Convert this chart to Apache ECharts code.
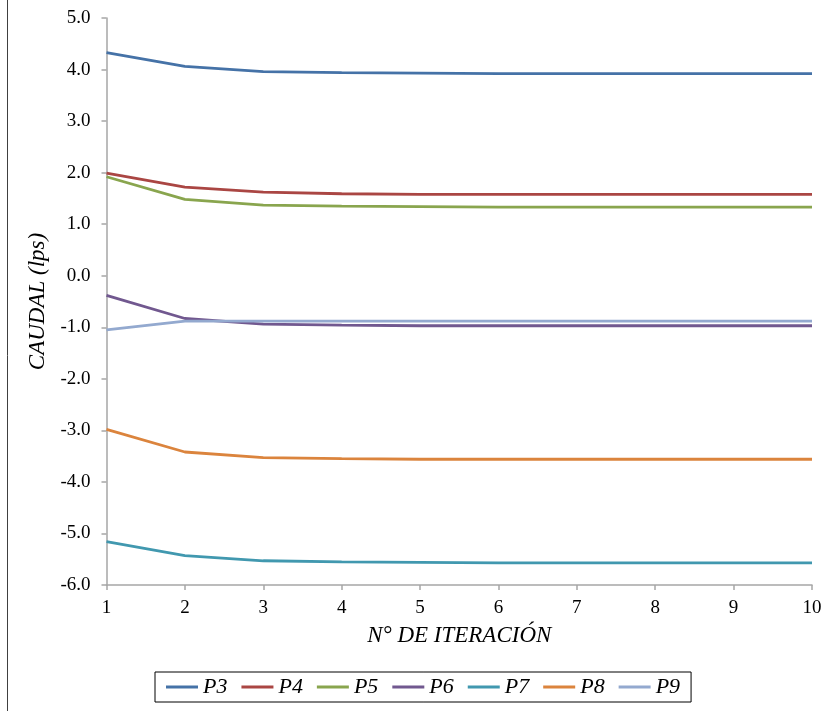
<!DOCTYPE html>
<html>
<head>
<meta charset="utf-8">
<script src="https://cdn.jsdelivr.net/npm/echarts@6/dist/echarts.min.js"></script>
<style>html,body{margin:0;padding:0;background:#fff}#c{width:833px;height:711px}</style>
</head>
<body>
<div id="c"></div>
<script>
const iterations = [1, 2, 3, 4, 5, 6, 7, 8, 9, 10];
const seriesNames = ['P3', 'P4', 'P5', 'P6', 'P7', 'P8', 'P9'];
const P3 = [4.33, 4.06, 3.96, 3.94, 3.93, 3.92, 3.92, 3.92, 3.92, 3.92];
const P4 = [1.99, 1.72, 1.62, 1.59, 1.58, 1.58, 1.58, 1.58, 1.58, 1.58];
const P5 = [1.92, 1.48, 1.37, 1.35, 1.34, 1.33, 1.33, 1.33, 1.33, 1.33];
const P6 = [-0.38, -0.83, -0.94, -0.96, -0.97, -0.97, -0.97, -0.97, -0.97, -0.97];
const P7 = [-5.16, -5.43, -5.53, -5.55, -5.56, -5.57, -5.57, -5.57, -5.57, -5.57];
const P8 = [-2.98, -3.42, -3.53, -3.55, -3.56, -3.56, -3.56, -3.56, -3.56, -3.56];
const P9 = [-1.05, -0.88, -0.88, -0.88, -0.88, -0.88, -0.88, -0.88, -0.88, -0.88];
const seriesData = [P3, P4, P5, P6, P7, P8, P9];
const colors = ['#4572A7', '#AA4643', '#89A54E', '#71588F', '#4198AF', '#DB843D', '#93A9CF'];

const font = 'Liberation Serif';
const chart = echarts.init(document.getElementById('c'));
chart.setOption({
  animation: false,
  color: colors,
  grid: { left: 106.5, right: 21, top: 18, bottom: 126, containLabel: false },
  xAxis: {
    type: 'value', min: 1, max: 10, interval: 1,
    name: 'N° DE ITERACIÓN', nameLocation: 'middle', nameGap: 39,
    nameTextStyle: { fontFamily: font, fontStyle: 'italic', fontSize: 23, color: '#000' },
    axisLine: { show: true, onZero: false, lineStyle: { color: '#a6a6a6', width: 1.5 } },
    axisTick: { show: true, length: 5, lineStyle: { color: '#a6a6a6', width: 1.5 } },
    axisLabel: { fontFamily: font, fontSize: 19, color: '#000', margin: 14 },
    splitLine: { show: false }
  },
  yAxis: {
    type: 'value', min: -6, max: 5, interval: 1,
    name: 'CAUDAL (lps)', nameLocation: 'middle', nameGap: 52,
    nameTextStyle: { fontFamily: font, fontStyle: 'italic', fontSize: 23, color: '#000' },
    axisLine: { show: true, onZero: false, lineStyle: { color: '#a6a6a6', width: 1.5 } },
    axisTick: { show: true, length: 5, lineStyle: { color: '#a6a6a6', width: 1.5 } },
    axisLabel: { fontFamily: font, fontSize: 19, color: '#000', margin: 16, formatter: v => v.toFixed(1) },
    splitLine: { show: false }
  },
  legend: {
    data: seriesNames,
    left: 155, top: 672,
    orient: 'horizontal',
    borderColor: '#000', borderWidth: 1,
    padding: [4, 11, 4, 11],
    itemWidth: 32, itemHeight: 3, itemGap: 14,
    icon: 'rect',
    textStyle: { fontFamily: font, fontStyle: 'italic', fontSize: 22, color: '#000' }
  },
  graphic: [{
    type: 'line', shape: { x1: 7.5, y1: 0, x2: 7.5, y2: 711 },
    style: { stroke: '#404040', lineWidth: 1 }
  }],
  series: seriesNames.map((n, i) => ({
    name: n, type: 'line',
    data: iterations.map((x, j) => [x, seriesData[i][j]]),
    showSymbol: false, symbol: 'none',
    lineStyle: { width: 2.8, color: colors[i] }
  }))
});
</script>
</body>
</html>
